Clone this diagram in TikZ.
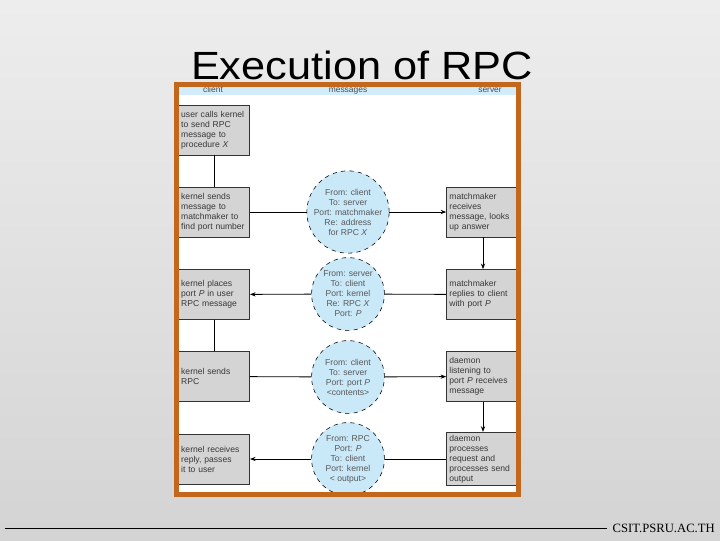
\documentclass[tikz,border=0pt]{standalone}
\usepackage{fontspec}
\setmainfont{Liberation Sans}
\newfontfamily\footfont{Liberation Serif}
\usetikzlibrary{arrows.meta}
\definecolor{framebrown}{HTML}{C2671C}
\definecolor{boxgray}{HTML}{D4D4D4}
\definecolor{msgblue}{HTML}{C9E8F8}
\definecolor{headblue}{HTML}{D2ECF9}
\definecolor{txtgray}{HTML}{383838}
\newcommand{\boxfont}{\fontsize{6.1}{7.1}\selectfont\hyphenpenalty=10000\relax}
\begin{document}
\begin{tikzpicture}[x=0.025cm, y=-0.025cm,
  cbox/.style={draw=black!80, line width=0.5pt, fill=boxgray, minimum width=1.75cm, minimum height=1.25cm,
    text width=1.64cm, inner sep=2pt, align=left, font=\boxfont, text=txtgray},
  sbox/.style={cbox, minimum width=1.8cm, text width=1.68cm},
  msg/.style={circle, draw=black, dashed, line width=0.4pt, fill=msgblue, minimum size=1.82cm, inner sep=0pt,
    align=center, font=\fontsize{6.1}{7.1}\selectfont, text=black!65},
  head/.style={font=\fontsize{6}{6}\selectfont, text=black!70, inner sep=0pt, anchor=base},
  arrow/.style={-{Stealth[length=4pt, width=3pt]}, line width=0.6pt},
  link/.style={line width=0.6pt}
]
  % Slide background
  \shade[top color=black!7, bottom color=black!17] (0,0) rectangle (720,540);
  \useasboundingbox (0,0) rectangle (720,540);

  % Figure panel
  \fill[white] (176,84) rectangle (519,494);
  \fill[headblue] (178,85) rectangle (519,94.5);
  \node[head] (hclient) at (213,92.5) {client};
  \node[head] (hmsg) at (348,92.5) {messages};
  \node[head] (hserver) at (490,92.5) {server};

  % Client side
  \node[cbox] (c1) at (214,130) {user calls kernel\\to send RPC\\message to\\procedure \textit{X}};
  \node[cbox] (c2) at (214,212) {kernel sends\\message to\\matchmaker to\\find port number};
  \node[cbox] (c3) at (214,294.5) {kernel places\\port \textit{P} in user\\RPC message};
  \node[cbox] (c4) at (214,376.5) {kernel sends\\RPC};
  \node[cbox] (c5) at (214,459) {kernel receives\\reply, passes\\it to user};

  % Messages
  \node[msg] (m1) at (348,212) {From: client\\To: server\\Port: matchmaker\\Re: address\\for RPC \textit{X}};
  \node[msg] (m2) at (348,294) {From: server\\To: client\\Port: kernel\\Re: RPC \textit{X}\\Port: \textit{P}};
  \node[msg] (m3) at (348,377) {From: client\\To: server\\Port: port \textit{P}\\<contents>};
  \node[msg] (m4) at (348,459) {From: RPC\\Port: \textit{P}\\To: client\\Port: kernel\\< output>};

  % Server side
  \node[sbox] (s1) at (483,212) {matchmaker\\receives\\message, looks\\up answer};
  \node[sbox] (s2) at (483,294.5) {matchmaker\\replies to client\\with port \textit{P}};
  \node[sbox] (s3) at (483,376.5) {daemon\\listening to\\port \textit{P} receives\\message};
  \node[sbox] (s4) at (483,459) {daemon\\processes\\request and\\processes send\\output};

  % Arrows
  \draw[link] (c1) -- (c2);
  \draw[link] (c2) -- (m1);
  \draw[arrow] (m1) -- (s1);
  \draw[arrow] (s1) -- (s2);
  \draw[link] (s2) -- (m2);
  \draw[arrow] (m2) -- (c3);
  \draw[link] (c3) -- (c4);
  \draw[link] (c4) -- (m3);
  \draw[arrow] (m3) -- (s3);
  \draw[arrow] (s3) -- (s4);
  \draw[link] (s4) -- (m4);
  \draw[arrow] (m4) -- (c5);

  % Frame
  \draw[framebrown, line width=3.6pt] (176.5,84.5) rectangle (518.5,494.5);

  % Title
  \node[anchor=base, inner sep=0pt] (title) at (362,79) {\scalebox{1.1}[1]{\fontsize{28}{28}\selectfont Execution of RPC}};

  % Footer
  \coordinate (lstart) at (5,528);
  \node[anchor=east, inner sep=0pt, font=\footfont\fontsize{9}{9}\selectfont] (site) at (715,528) {CSIT.PSRU.AC.TH};
  \draw[line width=0.6pt] (lstart) -- ([xshift=-4pt]site.west);
\end{tikzpicture}
\end{document}
